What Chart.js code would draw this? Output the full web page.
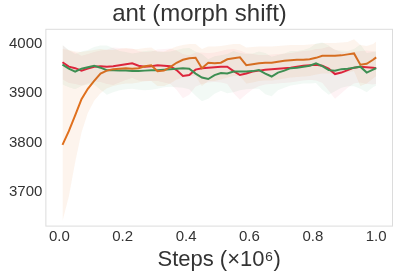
<!DOCTYPE html>
<html>
<head>
<meta charset="utf-8">
<script src="https://cdn.jsdelivr.net/npm/chart.js@4/dist/chart.umd.min.js"></script>
<style>
  html, body { margin: 0; padding: 0; background: #fff; }
  #wrap { width: 399px; height: 279px; }
</style>
</head>
<body>
<div id="wrap"><canvas id="myChart" width="399" height="279"></canvas></div>
<script>
// steps (x1e6)
const steps = [0.01, 0.03, 0.05, 0.07, 0.09, 0.11, 0.13, 0.15, 0.17, 0.19,
  0.21, 0.23, 0.25, 0.27, 0.29, 0.31, 0.33, 0.35, 0.37, 0.39,
  0.41, 0.43, 0.45, 0.47, 0.49, 0.51, 0.53, 0.55, 0.57, 0.59,
  0.61, 0.63, 0.65, 0.67, 0.69, 0.71, 0.73, 0.75, 0.77, 0.79,
  0.81, 0.83, 0.85, 0.87, 0.89, 0.91, 0.93, 0.95, 0.97, 0.99, 1.0];

const orangeMean = [3795, 3823, 3855, 3888, 3909, 3925, 3940, 3946, 3949, 3950,
  3951, 3950, 3951, 3955, 3957, 3945, 3946, 3953, 3962, 3968,
  3971, 3972, 3951, 3962, 3961, 3962, 3969, 3971, 3973, 3957,
  3959, 3961, 3962, 3962, 3964, 3966, 3967, 3968, 3968, 3969,
  3972, 3976, 3976, 3976, 3977, 3979, 3981, 3958, 3960, 3968, 3973];
const orangeLow = [3640, 3690, 3760, 3820, 3860, 3885, 3900, 3910, 3915, 3918,
  3920, 3920, 3922, 3925, 3925, 3915, 3915, 3920, 3928, 3932,
  3935, 3935, 3915, 3925, 3925, 3928, 3932, 3935, 3935, 3920,
  3922, 3925, 3926, 3926, 3928, 3930, 3932, 3933, 3934, 3935,
  3938, 3940, 3940, 3940, 3940, 3942, 3945, 3915, 3920, 3930, 3935];
const orangeHigh = [3990, 3988, 3985, 3984, 3986, 3988, 3990, 3988, 3988, 3990,
  3992, 3990, 3990, 3992, 3993, 3985, 3985, 3990, 3995, 3998,
  4000, 4000, 3990, 3995, 3995, 3996, 3998, 4000, 4000, 3993,
  3994, 3995, 3995, 3995, 3996, 3997, 3998, 3998, 3998, 3999,
  4000, 4002, 4002, 4002, 4003, 4004, 4010, 3998, 3996, 4000, 4005];

const greenMean = [3958, 3950, 3944, 3950, 3953, 3956, 3952, 3947, 3947, 3946,
  3946, 3945, 3945, 3946, 3947, 3947, 3948, 3949, 3950, 3951,
  3950, 3940, 3932, 3929, 3937, 3941, 3940, 3944, 3944, 3944,
  3945, 3947, 3940, 3934, 3942, 3946, 3951, 3952, 3954, 3956,
  3961, 3955, 3947, 3946, 3949, 3950, 3952, 3954, 3942, 3948, 3951];
const greenSpread = [40, 38, 36, 35, 35, 38, 45, 50, 45, 40,
  38, 36, 38, 40, 40, 38, 36, 36, 38, 40,
  42, 45, 48, 40, 38, 36, 40, 42, 38, 36,
  36, 38, 42, 40, 36, 35, 35, 34, 34, 36,
  40, 48, 50, 42, 38, 36, 38, 45, 40, 36, 35];

const redMean = [3963, 3954, 3951, 3946, 3950, 3954, 3955, 3954, 3955, 3957,
  3959, 3961, 3956, 3954, 3955, 3957, 3956, 3955, 3947, 3935,
  3937, 3948, 3951, 3952, 3953, 3954, 3954, 3945, 3937, 3940,
  3944, 3946, 3948, 3949, 3950, 3951, 3952, 3954, 3956, 3957,
  3958, 3956, 3950, 3939, 3942, 3947, 3952, 3954, 3953, 3952, 3951];
const redSpread = [35, 33, 32, 30, 30, 30, 32, 35, 38, 35,
  32, 30, 30, 30, 30, 32, 34, 36, 40, 45,
  40, 35, 32, 30, 30, 32, 35, 45, 50, 42,
  36, 32, 30, 30, 30, 30, 30, 30, 30, 30,
  32, 35, 45, 50, 42, 36, 32, 32, 34, 34, 32];

const xTicks = [0.0, 0.2, 0.4, 0.6, 0.8, 1.0];
const yTicks = [3700, 3800, 3900, 4000];

const orange = '#e0701e';
const green = '#27985a';
const red = '#e8193f';

function pts(vals) {
  return steps.map((s, i) => ({ x: s, y: vals[i] }));
}
function bandHi(mean, spread) { return mean.map((v, i) => v + spread[i]); }
function bandLo(mean, spread) { return mean.map((v, i) => v - spread[i]); }

function band(hi, lo, color) {
  return [
    { data: pts(hi), borderWidth: 0, pointRadius: 0, fill: '+1', backgroundColor: color, tension: 0 },
    { data: pts(lo), borderWidth: 0, pointRadius: 0, fill: false, tension: 0 }
  ];
}
function line(vals, color) {
  return { data: pts(vals), borderColor: color, borderWidth: 2, pointRadius: 0, fill: false, tension: 0 };
}

// frame round the plot area
const frame = {
  id: 'frame',
  afterDraw(chart) {
    const { ctx, chartArea: a } = chart;
    ctx.save();
    ctx.strokeStyle = '#dcdcdc';
    ctx.lineWidth = 1;
    ctx.strokeRect(a.left + 0.5, a.top + 0.5, a.right - a.left - 1, a.bottom - a.top - 1);
    ctx.restore();
  }
};

new Chart(document.getElementById('myChart').getContext('2d'), {
  type: 'line',
  data: {
    datasets: [
      ...band(orangeHigh, orangeLow, 'rgba(224,112,30,0.08)'),
      ...band(bandHi(greenMean, greenSpread), bandLo(greenMean, greenSpread), 'rgba(39,152,90,0.06)'),
      ...band(bandHi(redMean, redSpread), bandLo(redMean, redSpread), 'rgba(232,25,63,0.05)'),
      line(orangeMean, orange),
      line(greenMean, green),
      line(redMean, red)
    ]
  },
  options: {
    responsive: false,
    animation: false,
    layout: { padding: { left: 6, right: 6, top: 0, bottom: 6 } },
    plugins: {
      legend: { display: false },
      tooltip: { enabled: false },
      title: {
        display: true,
        text: 'ant (morph shift)',
        color: '#333',
        font: { family: 'Liberation Sans', size: 24, weight: 'normal' },
        padding: { top: 0, bottom: 0 }
      }
    },
    scales: {
      x: {
        type: 'linear',
        min: -0.044,
        max: 1.053,
        afterBuildTicks: s => { s.ticks = xTicks.map(v => ({ value: v })); },
        ticks: {
          color: '#333',
          font: { family: 'Liberation Sans', size: 15 },
          padding: 1,
          maxRotation: 0,
          callback: v => v.toFixed(1)
        },
        grid: { display: false, drawTicks: false },
        border: { display: false },
        title: {
          display: true,
          text: 'Steps (×10⁶)',
          color: '#333',
          font: { family: 'Liberation Sans', size: 22 },
          padding: { top: 0, bottom: 0 }
        }
      },
      y: {
        type: 'linear',
        min: 3629,
        max: 4031,
        afterBuildTicks: s => { s.ticks = yTicks.map(v => ({ value: v })); },
        ticks: {
          color: '#333',
          font: { family: 'Liberation Sans', size: 15 },
          padding: 3,
          callback: v => String(v)
        },
        grid: { display: false, drawTicks: false },
        border: { display: false }
      }
    }
  },
  plugins: [frame]
});
</script>
</body>
</html>
